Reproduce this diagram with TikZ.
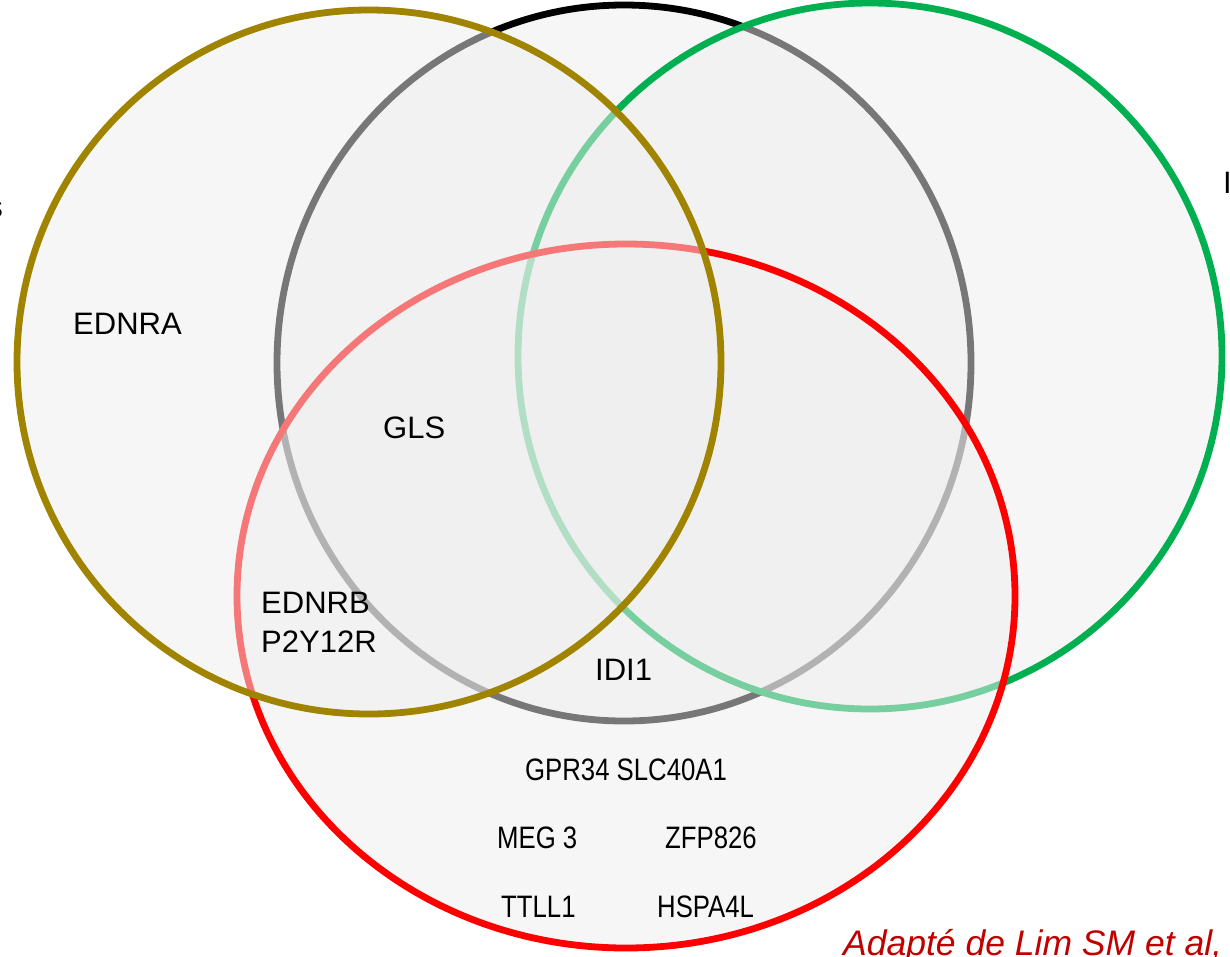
\documentclass[tikz,border=0pt]{standalone}
\usepackage{fontspec}
\setmainfont{Liberation Sans}
\newfontfamily\narrowfont[FakeStretch=0.83]{Liberation Sans}
\definecolor{olivec}{RGB}{160,132,0}
\definecolor{greenc}{RGB}{0,176,80}
\definecolor{redc}{RGB}{255,0,0}
\definecolor{fillc}{RGB}{238,238,238}
\definecolor{notec}{RGB}{192,0,0}
\tikzset{
  setellipse/.style={draw=#1, line width=6.8pt, fill=fillc, fill opacity=0.5, draw opacity=1},
  lbl/.style={inner sep=0pt, anchor=base west, font=\fontsize{31}{37}\selectfont},
  nlbl/.style={inner sep=0pt, anchor=base west, font=\narrowfont\fontsize{31}{37}\selectfont},
}
\begin{document}
\begin{tikzpicture}[x=1pt,y=-1pt]
\useasboundingbox (0,0) rectangle (1230,956);
\clip (0,0) rectangle (1230,956);
% sets, in stacking order
\path[setellipse=black] (624,363) ellipse [x radius=347, y radius=358];
\path[setellipse=greenc] (870,356) ellipse [x radius=352, y radius=353];
\path[setellipse=redc] (626,596) ellipse [x radius=389, y radius=352];
\path[setellipse=olivec] (369,362) ellipse [x radius=352, y radius=352];
% clipped labels at the edges
\node[inner sep=0pt, anchor=base east, font=\fontsize{31}{37}\selectfont] (leftcut) at (3,217) {s};
\node[lbl] (rightcut) at (1223,193) {I};
% gene labels
\node[lbl] (ednra) at (73,334) {EDNRA};
\node[lbl] (gls) at (383,438) {GLS};
\node[lbl] (ednrb) at (261,613) {EDNRB};
\node[lbl] (p2y) at (261,652) {P2Y12R};
\node[lbl] (idi) at (595,680) {IDI1};
\node[nlbl] (gpr) at (525,780) {GPR34 SLC40A1};
\node[nlbl] (meg) at (497,848) {MEG 3};
\node[nlbl] (zfp) at (665,848) {ZFP826};
\node[nlbl] (ttll) at (501,917) {TTLL1};
\node[nlbl] (hspa) at (657,917) {HSPA4L};
\node[inner sep=0pt, anchor=base west, text=notec, font=\itshape\fontsize{35.5}{42}\selectfont] (note) at (843,955) {Adapté de Lim SM et al,};
\end{tikzpicture}
\end{document}
